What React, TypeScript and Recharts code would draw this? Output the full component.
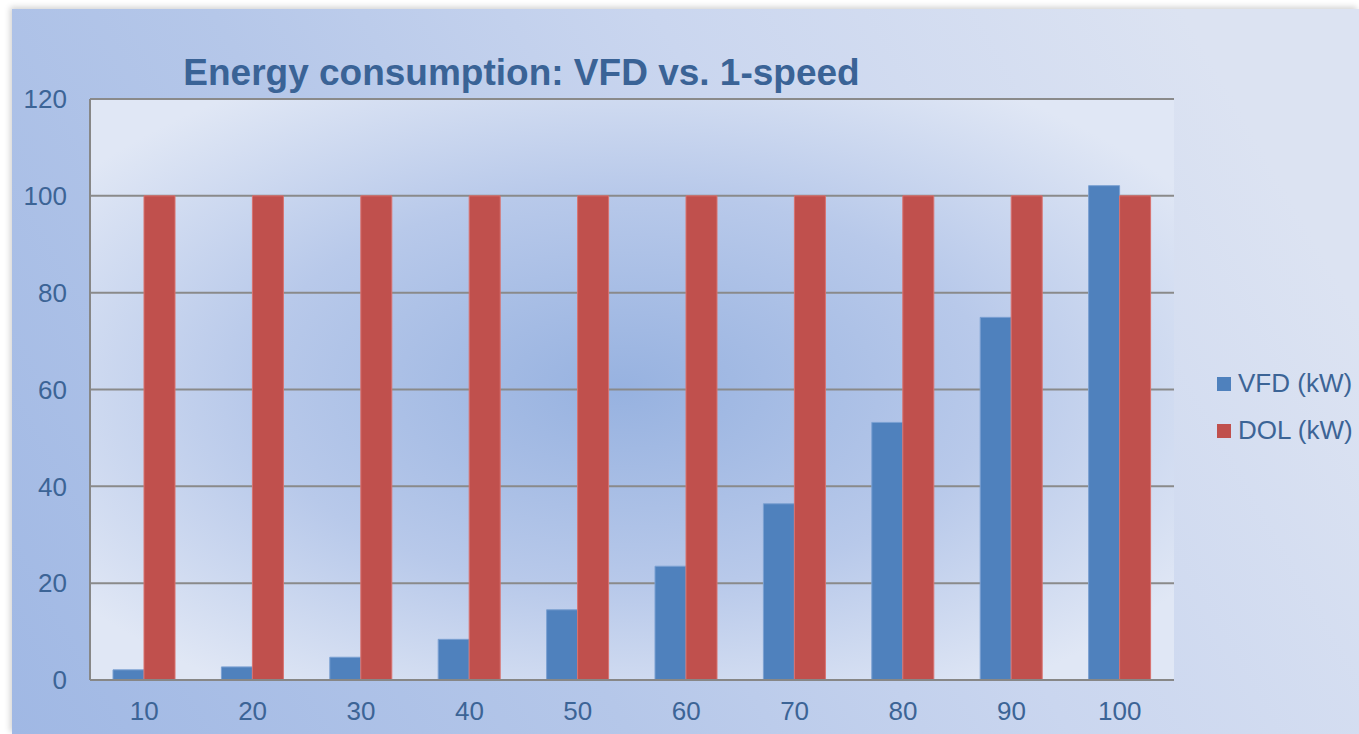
import React from 'react';
import { BarChart, Bar, XAxis, YAxis, CartesianGrid, Legend } from 'recharts';

const categories = ['10', '20', '30', '40', '50', '60', '70', '80', '90', '100'];
const vfdValues = [2.1, 2.7, 4.7, 8.4, 14.5, 23.5, 36.4, 53.2, 74.9, 102.1];
const dolValues = [100, 100, 100, 100, 100, 100, 100, 100, 100, 100];
const yTicks = [0, 20, 40, 60, 80, 100, 120];
const seriesNames = { vfd: 'VFD (kW)', dol: 'DOL (kW)' };
const legendOrder = [seriesNames.vfd, seriesNames.dol];
const titleText = 'Energy consumption: VFD vs. 1-speed';

const data = categories.map((c, i) => ({ speed: c, vfd: vfdValues[i], dol: dolValues[i] }));

const FONT = '"Liberation Sans", Arial, sans-serif';
const TEXT = '#3C6496';

const renderLegend = (props: any) => {
  const items = [...(props.payload || [])].sort(
    (a: any, b: any) => legendOrder.indexOf(a.value) - legendOrder.indexOf(b.value)
  );
  return (
    <div style={{ fontFamily: FONT, fontSize: 26, color: TEXT }}>
      {items.map((entry: any) => (
        <div key={entry.value} style={{ display: 'flex', alignItems: 'center', height: 47 }}>
          <span style={{ display: 'inline-block', width: 14, height: 14, background: entry.color, marginRight: 7 }} />
          <span>{entry.value}</span>
        </div>
      ))}
    </div>
  );
};

export default function App() {
  return (
    <div style={{ position: 'absolute', left: 0, top: 0, width: 1359, height: 734, overflow: 'hidden', background: '#ffffff' }}>
      <div
        style={{
          position: 'absolute',
          left: 12,
          top: 9,
          width: 1347,
          height: 725,
          background: 'linear-gradient(60deg, #A0B8E4 0%, #B5C7E9 35%, #CAD6EF 60%, #DCE3F2 90%)',
          boxShadow: '-2px -2px 6px rgba(0,0,0,0.18)',
        }}
      />
      <div
        style={{
          position: 'absolute',
          left: 0,
          top: 53.7,
          width: 1043,
          textAlign: 'center',
          fontFamily: FONT,
          fontWeight: 'bold',
          fontSize: 37,
          lineHeight: '37px',
          color: '#3A6396',
          whiteSpace: 'nowrap',
        }}
      >
        {titleText}
      </div>
      <div style={{ position: 'absolute', left: 0, top: 0 }}>
        <BarChart
          width={1359}
          height={734}
          data={data}
          margin={{ top: 99, right: 185, bottom: 0, left: 0 }}
          barSize={31}
          barGap={0}
        >
          <defs>
            <radialGradient id="plotBg" cx="0.49" cy="0.5" r="0.62">
              <stop offset="0%" stopColor="#97B2E0" />
              <stop offset="55%" stopColor="#B8C9EA" />
              <stop offset="100%" stopColor="#E0E7F5" />
            </radialGradient>
          </defs>
          <CartesianGrid
            vertical={false}
            stroke="#8A8A8A"
            strokeWidth={2}
            fill="url(#plotBg)"
            fillOpacity={1}
          />
          <XAxis
            dataKey="speed"
            height={54}
            tickLine={false}
            tickSize={0}
            tickMargin={22}
            axisLine={{ stroke: '#878787', strokeWidth: 2 }}
            tick={{ fill: TEXT, fontSize: 26, fontFamily: FONT }}
            interval={0}
          />
          <YAxis
            width={90}
            domain={[0, 120]}
            ticks={yTicks}
            tickLine={false}
            tickSize={0}
            tickMargin={23}
            axisLine={{ stroke: '#878787', strokeWidth: 2 }}
            tick={{ fill: TEXT, fontSize: 26, fontFamily: FONT }}
            interval={0}
          />
          <Legend
            layout="horizontal"
            verticalAlign="middle"
            align="center"
            content={renderLegend}
            wrapperStyle={{ left: 1217, top: 360, right: 'auto', bottom: 'auto', width: 'auto' }}
          />
          <Bar dataKey="vfd" name={seriesNames.vfd} fill="#4F81BD" stroke="#7BA0D2" strokeWidth={1} isAnimationActive={false} />
          <Bar dataKey="dol" name={seriesNames.dol} fill="#C0504D" stroke="#D9726F" strokeWidth={1} isAnimationActive={false} />
        </BarChart>
      </div>
    </div>
  );
}
